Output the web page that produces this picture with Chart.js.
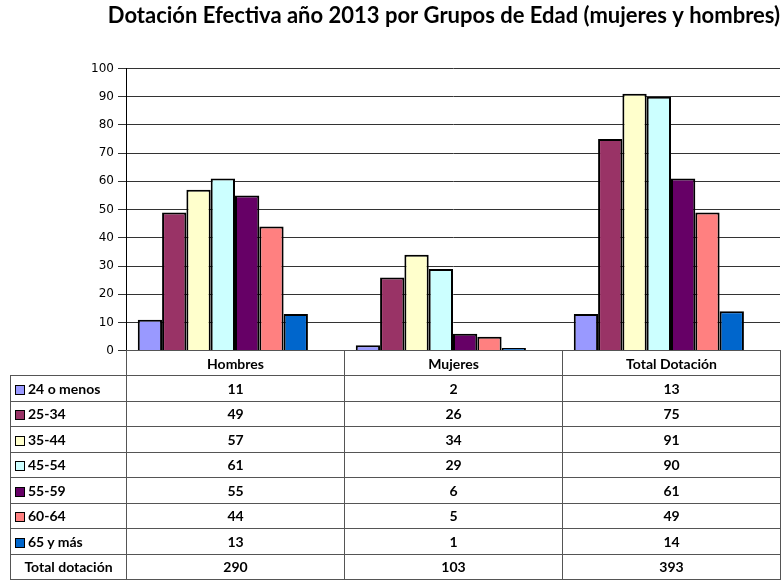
<!DOCTYPE html>
<html>
<head>
<meta charset="utf-8">
<script src="https://cdn.jsdelivr.net/npm/chart.js@4"></script>
<style>
  body { margin: 0; background: #fff; }
  #wrap { position: relative; width: 782px; height: 580px; overflow: hidden; }
  #grafico { position: absolute; left: 0; top: 0; }
  #tabla {
    position: absolute; left: 10px; top: 350px;
    border-collapse: collapse; table-layout: fixed;
    font-family: Lato, sans-serif; font-weight: bold; font-size: 14px; color: #000;
  }
  #tabla td { border: 1px solid #555; height: 24px; padding: 0; text-align: center; white-space: nowrap; }
  #tabla td.lbl { text-align: left; padding-left: 4px; }
  #tabla td.vacio { border: none; }
  .key { display: inline-block; width: 8px; height: 8px; border: 1px solid #000; margin-right: 3px; vertical-align: -1px; }
</style>
</head>
<body>
<div id="wrap">
  <canvas id="grafico" width="782" height="362"></canvas>
  <table id="tabla"></table>
</div>
<script>
// datos
const categorias = ['Hombres', 'Mujeres', 'Total Dotación'];
const gruposEdad = ['24 o menos', '25-34', '35-44', '45-54', '55-59', '60-64', '65 y más'];
const hombres = [11, 49, 57, 61, 55, 44, 13];
const mujeres = [2, 26, 34, 29, 6, 5, 1];
const totalDotacion = [13, 75, 91, 90, 61, 49, 14];
const totales = [290, 103, 393];
const ticksY = [0, 10, 20, 30, 40, 50, 60, 70, 80, 90, 100];

// colores clásicos de Excel
const colores = ['#9999FF', '#993366', '#FFFFCC', '#CCFFFF', '#660066', '#FF8080', '#0066CC'];

const datasets = gruposEdad.map((g, i) => ({
    label: g,
    data: [hombres[i], mujeres[i], totalDotacion[i]],
    backgroundColor: colores[i],
    borderColor: '#000',
    borderWidth: 2,
    barPercentage: 1,
    categoryPercentage: 0.892
}));
// hueco vacío al final de cada grupo (en Excel las barras quedan corridas a la izquierda)
datasets.push({ label: '', data: [null, null, null], barPercentage: 1, categoryPercentage: 0.892 });

const ctx = document.getElementById('grafico').getContext('2d');
new Chart(ctx, {
    type: 'bar',
    data: { labels: categorias, datasets: datasets },
    options: {
        responsive: false,
        animation: false,
        layout: { padding: { left: 0, right: 2, top: 0, bottom: 0 } },
        scales: {
            y: {
                min: 0,
                max: 100,
                afterBuildTicks: (s) => { s.ticks = ticksY.map(v => ({ value: v })); },
                afterFit: (s) => { s.width = 126; },
                ticks: { color: '#000', padding: 4, font: { family: 'DejaVu Sans', size: 12 } },
                grid: { color: '#333', lineWidth: 1, tickLength: 8 },
                border: { color: '#000', width: 1 }
            },
            x: {
                afterFit: (s) => { s.height = 2; },
                ticks: { display: false },
                grid: { offset: true, drawOnChartArea: false, color: '#000', tickLength: 3 },
                border: { color: '#000', width: 1 }
            }
        },
        plugins: {
            legend: { display: false },
            tooltip: { enabled: false },
            title: {
                display: true,
                text: 'Dotación Efectiva año 2013 por Grupos de Edad (mujeres y hombres)',
                align: 'end',
                color: '#000',
                font: { family: 'Lato', size: 22, weight: 'bold' },
                padding: { top: 3, bottom: 39 }
            }
        }
    }
});

// tabla de datos bajo el gráfico
const tabla = document.getElementById('tabla');
let html = '<colgroup><col style="width:116px"><col style="width:218px"><col style="width:218px"><col style="width:218px"></colgroup>';
html += '<tr><td class="vacio"></td>' + categorias.map(c => '<td>' + c + '</td>').join('') + '</tr>';
gruposEdad.forEach((g, i) => {
    html += '<tr style="height:25.5px"><td class="lbl"><span class="key" style="background:' + colores[i] + '"></span>' + g + '</td>' +
        '<td>' + hombres[i] + '</td><td>' + mujeres[i] + '</td><td>' + totalDotacion[i] + '</td></tr>';
});
html += '<tr style="height:25.5px"><td>Total dotación</td>' + totales.map(t => '<td>' + t + '</td>').join('') + '</tr>';
tabla.innerHTML = html;
</script>
</body>
</html>
